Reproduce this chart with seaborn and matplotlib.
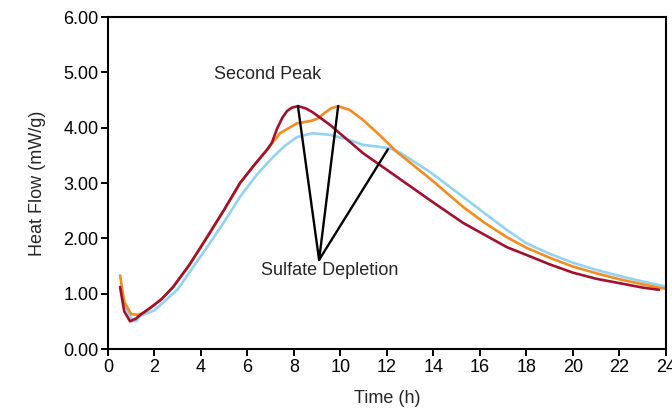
import matplotlib
matplotlib.use("Agg")
import matplotlib.pyplot as plt
import numpy as np
import pandas as pd
import seaborn as sns
from matplotlib.ticker import FormatStrFormatter

# ---- data ----
t_red = [0.52, 0.7, 0.95, 1.2, 1.4, 1.81, 2.3, 2.8, 3.5, 4.26, 5.0, 5.68, 6.3, 6.84, 7.05, 7.27, 7.5, 7.7, 7.9, 8.17,
         8.5, 8.8, 9.55, 10.97, 12.43, 13.85, 15.27, 17.16, 18.0, 19.0, 20.0, 21.0, 22.0, 23.0, 23.7]
hf_red = [1.12, 0.68, 0.50, 0.55, 0.62, 0.74, 0.9, 1.12, 1.52, 2.02, 2.52, 3.0, 3.33, 3.6, 3.73, 3.98, 4.18, 4.3, 4.36, 4.39,
          4.35, 4.28, 4.05, 3.54, 3.11, 2.69, 2.28, 1.84, 1.7, 1.53, 1.38, 1.27, 1.19, 1.11, 1.07]

t_orange = [0.52, 0.7, 1.0, 1.3, 1.5, 1.81, 2.3, 2.8, 3.5, 4.26, 5.0, 5.68, 6.3, 6.84, 7.4, 8.13, 8.7, 9.0,
            9.3, 9.6, 9.9, 10.4, 10.97, 11.7, 12.43, 13.85, 15.27, 16.2, 17.16, 18.0, 19.0, 20.0, 21.0, 22.0, 23.0, 23.95]
hf_orange = [1.33, 0.85, 0.63, 0.62, 0.65, 0.74, 0.9, 1.12, 1.52, 2.02, 2.52, 3.0, 3.33, 3.6, 3.9, 4.08, 4.12, 4.16,
             4.26, 4.35, 4.39, 4.32, 4.14, 3.86, 3.56, 3.08, 2.57, 2.28, 2.02, 1.83, 1.65, 1.49, 1.37, 1.26, 1.17, 1.09]

t_blue = [0.55, 0.8, 1.0, 1.2, 1.4, 2.0, 3.0, 4.26, 5.0, 5.68, 6.4, 7.1, 7.6, 8.13, 8.8, 9.55, 10.3, 10.97,
          12.13, 12.6, 13.85, 15.27, 17.16, 18.0, 19.0, 20.0, 21.0, 22.0, 23.0, 24.0]
hf_blue = [1.05, 0.72, 0.55, 0.5, 0.6, 0.7, 1.08, 1.84, 2.3, 2.75, 3.15, 3.47, 3.67, 3.83, 3.9, 3.87, 3.79, 3.69,
           3.63, 3.54, 3.2, 2.75, 2.15, 1.91, 1.72, 1.56, 1.43, 1.32, 1.22, 1.13]

series_names = ["blue", "orange", "red"]
palette = {"blue": "#93D2F0", "orange": "#F28C1E", "red": "#A0102F"}

# annotation anchors (time, heat flow)
depletion_vertex = (9.08, 1.61)
peak_points = [(8.17, 4.39), (9.9, 4.39), (12.04, 3.61)]
second_peak_label = (6.88, 4.97)
depletion_label = (9.55, 1.41)

df = pd.concat([
    pd.DataFrame({"Time": t_blue, "HF": hf_blue, "Series": "blue"}),
    pd.DataFrame({"Time": t_orange, "HF": hf_orange, "Series": "orange"}),
    pd.DataFrame({"Time": t_red, "HF": hf_red, "Series": "red"}),
], ignore_index=True)

sns.set_style("ticks")
plt.rcParams["font.family"] = ["Liberation Sans", "DejaVu Sans"]

fig = plt.figure(figsize=(6.72, 4.15), dpi=100)
ax = fig.add_axes([0.1607, 0.159, 0.8303, 0.8])

sns.lineplot(data=df, x="Time", y="HF", hue="Series", hue_order=series_names,
             palette=palette, sort=False, estimator=None, linewidth=1.9, ax=ax, legend=False)

for px, py in peak_points:
    ax.plot([depletion_vertex[0], px], [depletion_vertex[1], py], color="black", linewidth=1.7)

ax.text(*second_peak_label, "Second Peak", ha="center", va="center", fontsize=13)
ax.text(*depletion_label, "Sulfate Depletion", ha="center", va="center", fontsize=13)

ax.set_xlim(0, 24)
ax.set_ylim(0, 6)
ax.set_xticks(np.arange(0, 25, 2))
ax.set_yticks(np.arange(0, 7, 1))
ax.yaxis.set_major_formatter(FormatStrFormatter("%.2f"))
ax.set_xlabel("Time (h)", fontsize=13, labelpad=10)
ax.set_ylabel("Heat Flow (mW/g)", fontsize=13, labelpad=12)
ax.tick_params(axis="both", direction="out", length=5, width=1.4, labelsize=13, colors="black", pad=2)
for s in ax.spines.values():
    s.set_visible(True)
    s.set_linewidth(1.5)
    s.set_color("black")

fig.savefig("out.png", dpi=100)
